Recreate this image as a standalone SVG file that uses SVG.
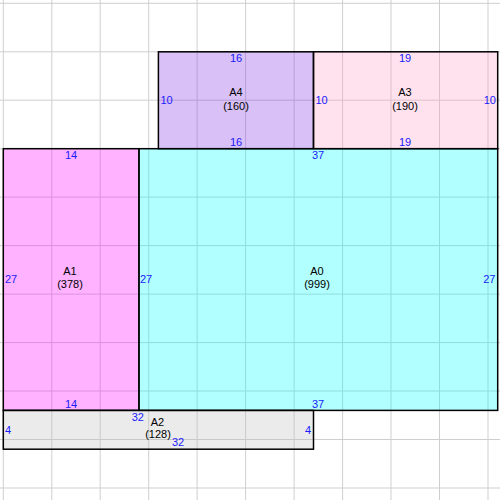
<svg xmlns="http://www.w3.org/2000/svg" width="500" height="500" viewBox="0 0 500 500">
<style>
.box{stroke:#000;stroke-width:1.5;fill-opacity:0.3}
.grid line{stroke:#cfcfcf;stroke-width:1}
text{font-family:"Liberation Sans",Arial,sans-serif;font-size:11px}
.lbl{fill:#000;text-anchor:middle}
.num{fill:#1a1aff}
.m{text-anchor:middle}
.e{text-anchor:end}
</style>
<rect x="0" y="0" width="500" height="500" fill="#fff"/>
<g class="grid">
<line x1="3.3" y1="0" x2="3.3" y2="500"/><line x1="51.8" y1="0" x2="51.8" y2="500"/><line x1="100.2" y1="0" x2="100.2" y2="500"/><line x1="148.7" y1="0" x2="148.7" y2="500"/><line x1="197.1" y1="0" x2="197.1" y2="500"/><line x1="245.6" y1="0" x2="245.6" y2="500"/><line x1="294.1" y1="0" x2="294.1" y2="500"/><line x1="342.6" y1="0" x2="342.6" y2="500"/><line x1="391" y1="0" x2="391" y2="500"/><line x1="439.5" y1="0" x2="439.5" y2="500"/><line x1="488" y1="0" x2="488" y2="500"/>
<line x1="0" y1="3.3" x2="500" y2="3.3"/><line x1="0" y1="51.8" x2="500" y2="51.8"/><line x1="0" y1="100.2" x2="500" y2="100.2"/><line x1="0" y1="148.7" x2="500" y2="148.7"/><line x1="0" y1="197.1" x2="500" y2="197.1"/><line x1="0" y1="245.6" x2="500" y2="245.6"/><line x1="0" y1="294.1" x2="500" y2="294.1"/><line x1="0" y1="342.6" x2="500" y2="342.6"/><line x1="0" y1="391" x2="500" y2="391"/><line x1="0" y1="439.5" x2="500" y2="439.5"/><line x1="0" y1="488" x2="500" y2="488"/>
</g>
<g id="A4"><rect class="box" x="158.4" y="51.8" width="155.1" height="96.9" fill="#8030e1"/>
<text class="lbl" x="236" y="96">A4</text><text class="lbl" x="236" y="110">(160)</text>
<text class="num m" x="236" y="62">16</text><text class="num m" x="236" y="146">16</text>
<text class="num" x="160.5" y="104">10</text>
</g>
<g id="A3"><rect class="box" x="313.5" y="51.8" width="184.2" height="96.9" fill="#ff9ec6"/>
<text class="lbl" x="405" y="96">A3</text><text class="lbl" x="405" y="110">(190)</text>
<text class="num m" x="405" y="62">19</text><text class="num m" x="405" y="146">19</text>
<text class="num" x="315.5" y="104">10</text><text class="num e" x="496" y="104">10</text>
</g>
<g id="A1"><rect class="box" x="3.3" y="148.7" width="135.7" height="261.7" fill="#ff00ff"/>
<text class="lbl" x="70" y="275">A1</text><text class="lbl" x="70" y="288">(378)</text>
<text class="num m" x="71" y="159">14</text><text class="num m" x="71" y="408">14</text>
<text class="num" x="5" y="283">27</text>
</g>
<g id="A0"><rect class="box" x="139" y="148.7" width="358.7" height="261.7" fill="#00ffff"/>
<text class="lbl" x="317" y="275">A0</text><text class="lbl" x="317" y="288">(999)</text>
<text class="num m" x="318" y="159">37</text><text class="num m" x="318" y="408">37</text>
<text class="num" x="140" y="283">27</text><text class="num e" x="495.5" y="283">27</text>
</g>
<g id="A2"><rect class="box" x="3.3" y="410.4" width="310.2" height="38.8" fill="#bcbcbc"/>
<text class="lbl" x="157.5" y="426">A2</text><text class="lbl" x="158" y="437.5">(128)</text>
<text class="num e" x="144" y="420.5">32</text><text class="num" x="172" y="445.5">32</text>
<text class="num" x="5" y="434">4</text><text class="num e" x="311" y="434">4</text>
</g>
</svg>
